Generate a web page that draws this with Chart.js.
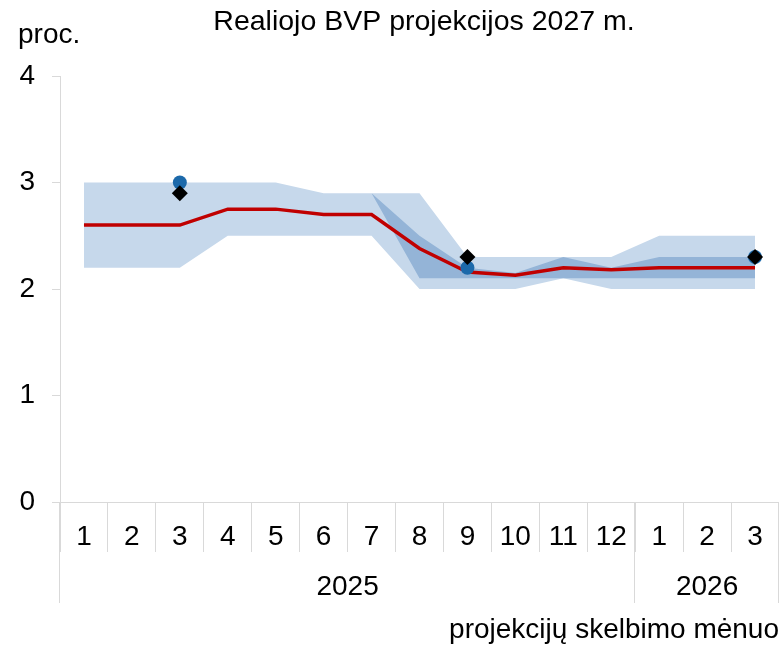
<!DOCTYPE html>
<html>
<head>
<meta charset="utf-8">
<script src="https://cdn.jsdelivr.net/npm/chart.js@4.4.1/dist/chart.umd.min.js"></script>
<style>
  body { margin: 0; background: #fff; }
  canvas { display: block; }
</style>
</head>
<body>
<canvas id="bvp" width="779" height="648"></canvas>
<script>
// projection month labels, grouped by year
var months = ['1', '2', '3', '4', '5', '6', '7', '8', '9', '10', '11', '12', '1', '2', '3'];
var years = ['2025', '2026'];
var yearMonthCount = [12, 3];

// outer (light) range
var lightLow = [2.2, 2.2, 2.2, 2.5, 2.5, 2.5, 2.5, 2.0, 2.0, 2.0, 2.1, 2.0, 2.0, 2.0, 2.0];
var lightHigh = [3.0, 3.0, 3.0, 3.0, 3.0, 2.9, 2.9, 2.9, 2.3, 2.3, 2.3, 2.3, 2.5, 2.5, 2.5];
// inner (dark) range
var darkLow = [null, null, null, null, null, null, 2.9, 2.1, 2.1, 2.1, 2.1, 2.1, 2.1, 2.1, 2.1];
var darkHigh = [null, null, null, null, null, null, 2.9, 2.5, 2.2, 2.15, 2.3, 2.2, 2.3, 2.3, 2.3];
// median
var median = [2.6, 2.6, 2.6, 2.75, 2.75, 2.7, 2.7, 2.38, 2.16, 2.13, 2.2, 2.18, 2.2, 2.2, 2.2];
// single projections
var bankProj = [null, null, 3.0, null, null, null, null, null, 2.2, null, null, null, null, null, 2.3];
var otherProj = [null, null, 2.9, null, null, null, null, null, 2.3, null, null, null, null, null, 2.3];

var FONT = 'Liberation Sans, Arial, sans-serif';
var gridColor = '#d9d9d9';

var extras = {
    id: 'extras',
    afterDraw: function (chart) {
        var ctx = chart.ctx;
        var xs = chart.scales.x;
        var area = chart.chartArea;
        var step = xs.width / months.length;
        ctx.save();
        // year group separators
        ctx.strokeStyle = gridColor;
        ctx.lineWidth = 1;
        var start = 0;
        var bounds = [xs.left];
        yearMonthCount.forEach(function (n) {
            start += n;
            bounds.push(xs.getPixelForValue(start - 1) + step / 2);
        });
        bounds.forEach(function (bx) {
            var px = Math.round(bx) - 0.5;
            ctx.beginPath();
            ctx.moveTo(px, area.bottom);
            ctx.lineTo(px, 603);
            ctx.stroke();
        });
        // year labels
        ctx.fillStyle = '#000';
        ctx.font = '28px ' + FONT;
        ctx.textAlign = 'center';
        ctx.textBaseline = 'middle';
        years.forEach(function (y, i) {
            ctx.fillText(y, (bounds[i] + bounds[i + 1]) / 2, 587);
        });
        // title and unit
        ctx.textBaseline = 'alphabetic';
        ctx.font = '28.5px ' + FONT;
        ctx.fillText('Realiojo BVP projekcijos 2027 m.', 424, 30);
        ctx.textAlign = 'left';
        ctx.font = '28px ' + FONT;
        ctx.fillText('proc.', 18, 43);
        ctx.restore();
    }
};

var chart = new Chart('bvp', {
    type: 'line',
    data: {
        labels: months,
        datasets: [
            { data: lightLow, borderWidth: 0, pointRadius: 0, fill: false, order: 10 },
            { data: lightHigh, borderWidth: 0, pointRadius: 0, fill: '-1', backgroundColor: '#c6d8eb', order: 10 },
            { data: darkLow, borderWidth: 0, pointRadius: 0, fill: false, order: 9 },
            { data: darkHigh, borderWidth: 0, pointRadius: 0, fill: '-1', backgroundColor: '#94b4d7', order: 9 },
            { data: median, borderColor: '#c00000', borderWidth: 3.5, pointRadius: 0, fill: false, order: 3 },
            {
                data: bankProj, showLine: false, pointStyle: 'circle', pointRadius: 7,
                pointBackgroundColor: '#1c69aa', pointBorderWidth: 0, order: 2
            },
            {
                data: otherProj, showLine: false, pointStyle: 'rectRot', pointRadius: 8,
                pointBackgroundColor: '#000', pointBorderWidth: 0, order: 1
            }
        ]
    },
    options: {
        responsive: false,
        animation: false,
        devicePixelRatio: 1,
        layout: { autoPadding: false, padding: { top: 76, left: 0, right: 0, bottom: 0 } },
        plugins: {
            legend: { display: false },
            tooltip: { enabled: false }
        },
        elements: { line: { tension: 0 } },
        scales: {
            x: {
                offset: true,
                grid: { offset: true, drawOnChartArea: false, tickLength: 50, color: gridColor },
                border: { color: gridColor },
                ticks: { padding: -32, color: '#000', font: { size: 28, family: FONT }, maxRotation: 0, autoSkip: false },
                title: {
                    display: true, text: 'projekcijų skelbimo mėnuo', align: 'end',
                    color: '#000', font: { size: 28, family: FONT }, padding: { top: 0, bottom: 1 }
                },
                afterFit: function (s) {
                    s.height = 146;
                    s.paddingLeft = 0;
                    s.paddingRight = 0;
                }
            },
            y: {
                min: 0, max: 4,
                grid: { drawOnChartArea: false, tickLength: 8, color: gridColor },
                border: { color: gridColor },
                ticks: { stepSize: 1, padding: 17, color: '#000', font: { size: 28, family: FONT } },
                afterFit: function (s) { s.width = 60; }
            }
        }
    },
    plugins: [extras]
});
</script>
</body>
</html>
